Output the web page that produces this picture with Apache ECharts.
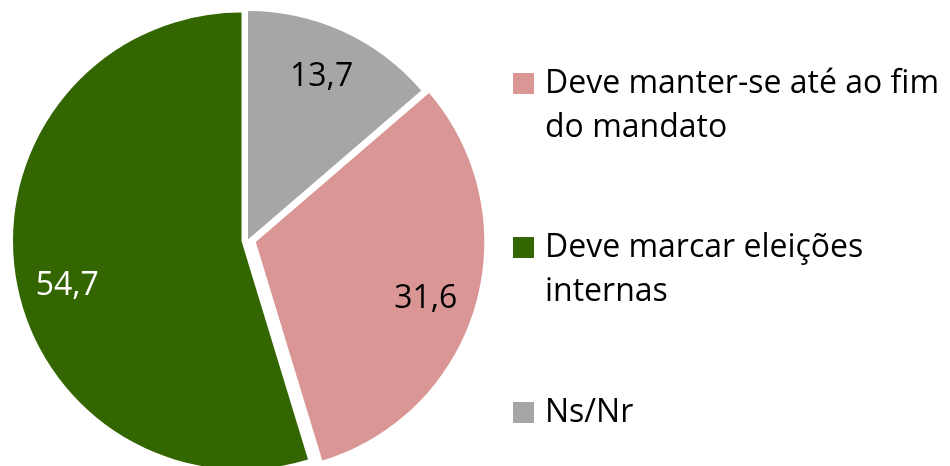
<!DOCTYPE html>
<html>
<head>
<meta charset="utf-8">
<script src="https://cdn.jsdelivr.net/npm/echarts@6/dist/echarts.min.js"></script>
<style>html,body{margin:0;padding:0;background:#fff;}#c{width:950px;height:466px;}</style>
</head>
<body>
<div id="c"></div>
<script>
const categories = ['Deve manter-se até ao fim do mandato', 'Deve marcar eleições internas', 'Ns/Nr'];
const legendLines = ['Deve manter-se até ao fim\ndo mandato', 'Deve marcar eleições\ninternas', 'Ns/Nr'];
const values = [31.6, 54.7, 13.7];

const colors = ['#D99694', '#336600', '#A6A6A6'];
const labelColors = ['#000000', '#ffffff', '#000000'];
const centers = [[255.8, 242], [241.5, 241], [248, 239.5]];
const labelOffsets = [[-4, 6], [5, 18], [-2, 2]];
const legendTops = [73, 237, 402];
const R = 228.5;
const FONT = "'Open Sans'";

const total = values.reduce((a, b) => a + b, 0);
const startAngle = 90 - values[2] / total * 360;

const series = [];
categories.forEach((cat, k) => {
  series.push({
    type: 'pie',
    center: centers[k],
    radius: [0, R],
    startAngle: startAngle,
    clockwise: true,
    silent: true,
    animation: false,
    avoidLabelOverlap: false,
    label: { show: false },
    labelLine: { show: false },
    emphasis: { disabled: true },
    itemStyle: { borderWidth: 0 },
    data: values.map((v, i) => i === k
      ? { name: categories[i], value: v, itemStyle: { color: colors[i] } }
      : { name: '_f' + k + '_' + i, value: v, itemStyle: { color: 'rgba(0,0,0,0)' } })
  });
  series.push({
    type: 'pie',
    center: centers[k],
    radius: [R * 0.56, R],
    startAngle: startAngle,
    clockwise: true,
    silent: true,
    animation: false,
    avoidLabelOverlap: false,
    labelLine: { show: false },
    emphasis: { disabled: true },
    itemStyle: { borderWidth: 0, color: 'rgba(0,0,0,0)' },
    data: values.map((v, i) => ({
      name: '_l' + k + '_' + i,
      value: v,
      label: {
        show: i === k,
        position: 'inside',
        formatter: String(v).replace('.', ','),
        color: labelColors[i],
        fontFamily: FONT,
        fontSize: 32,
        offset: labelOffsets[i]
      }
    }))
  });
});

const legends = categories.map((cat, k) => ({
  orient: 'vertical',
  left: 513,
  top: 'auto',
  padding: 0,
  icon: 'rect',
  itemWidth: 21,
  itemHeight: 21,
  selectedMode: false,
  data: [cat],
  formatter: () => (legendLines[k].indexOf('\n') >= 0 ? '\n' : '') + legendLines[k],
  textStyle: {
    fontFamily: FONT,
    fontSize: 32,
    color: '#000',
    lineHeight: 44,
    padding: [0, 0, 0, 6]
  }
}));

const chart = echarts.init(document.getElementById('c'), null, { renderer: 'canvas' });
// position each legend so that its icon top sits at legendTops[k]
legends.forEach((lg, k) => {
  const lines = (legendLines[k].indexOf('\n') >= 0 ? 3 : 1);
  lg.top = legendTops[k] + 10.5 - lines * 44 / 2;
});
chart.setOption({
  animation: false,
  backgroundColor: '#ffffff',
  legend: legends,
  series: series
});
</script>
</body>
</html>
